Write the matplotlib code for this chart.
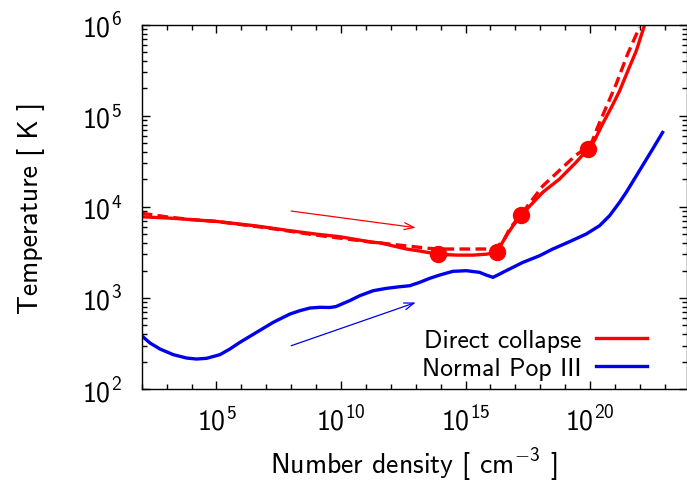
import numpy as np
import matplotlib
matplotlib.use("Agg")
import matplotlib.pyplot as plt
from matplotlib.ticker import LogLocator, NullFormatter, LogFormatterMathtext, FixedLocator

plt.rcParams['font.family'] = ['cmss10', 'DejaVu Sans']
plt.rcParams['mathtext.fontset'] = 'custom'
plt.rcParams['mathtext.rm'] = 'cmss10'
plt.rcParams['mathtext.it'] = 'cmss10'
plt.rcParams['mathtext.sf'] = 'cmss10'
plt.rcParams['axes.unicode_minus'] = False

# ---- data (log10 values) ----
red_solid_logn = [2.0, 3.27, 5.0, 6.61, 7.95, 9.02, 9.95, 11.29, 11.56, 12.63, 13.16, 13.88,
                  14.63, 15.3, 15.83, 16.25, 16.63, 16.9, 17.24, 18.1, 18.77, 19.44, 19.93,
                  20.18, 20.5, 20.85, 21.18, 21.51, 21.85, 22.18]
red_solid_logT = [3.891, 3.874, 3.84, 3.79, 3.738, 3.70, 3.672, 3.61, 3.605, 3.537, 3.515, 3.48,
                  3.47, 3.47, 3.48, 3.50, 3.68, 3.79, 3.91, 4.16, 4.305, 4.49, 4.64,
                  4.73, 4.91, 5.09, 5.27, 5.49, 5.71, 5.99]

red_dash_logn = [2.0, 3.0, 4.0, 5.0, 7.0, 9.0, 11.0, 12.5, 13.5, 14.0, 15.0, 16.0, 16.3,
                 16.57, 16.77, 17.24, 18.1, 18.77, 19.44, 19.93, 20.1, 20.31, 20.64, 21.05,
                 21.51, 21.98]
red_dash_logT = [3.93, 3.89, 3.86, 3.84, 3.77, 3.69, 3.62, 3.575, 3.545, 3.537, 3.537, 3.537, 3.57,
                 3.65, 3.76, 3.92, 4.23, 4.40, 4.57, 4.66, 4.73, 4.88, 5.09, 5.35,
                 5.68, 5.97]

marker_logn = [13.88, 16.25, 17.24, 19.93]
marker_logT = [3.48, 3.50, 3.91, 4.64]

blue_logn = [2.0, 2.333, 2.734, 3.268, 3.80, 4.205, 4.606, 5.14, 5.54, 5.94, 6.61, 7.28, 7.95,
             8.35, 8.75, 9.15, 9.55, 9.8, 10.05, 10.35, 10.75, 11.29, 11.82, 12.36, 12.76,
             13.16, 13.56, 13.96, 14.49, 15.03, 15.56, 15.83, 16.10, 16.37, 16.63, 17.30,
             17.97, 18.5, 19.17, 19.84, 20.38, 20.78, 21.18, 21.45, 21.98, 22.51, 22.91]
blue_logT = [2.585, 2.505, 2.439, 2.377, 2.340, 2.329, 2.337, 2.377, 2.439, 2.512, 2.622, 2.732,
             2.823, 2.86, 2.889, 2.897, 2.895, 2.905, 2.935, 2.97, 3.024, 3.079, 3.105, 3.123,
             3.134, 3.171, 3.215, 3.251, 3.292, 3.299, 3.281, 3.251, 3.226, 3.262, 3.299,
             3.39, 3.463, 3.537, 3.617, 3.701, 3.793, 3.902, 4.049, 4.159, 4.396, 4.634, 4.817]

red_arrow = [(8.0, 3.954), (13.0, 3.771)]
blue_arrow = [(8.0, 2.475), (13.0, 2.95)]

labels = ["Direct collapse", "Normal Pop III"]

W, H = 687, 489
fig = plt.figure(figsize=(W / 100, H / 100), dpi=100)
x0, x1 = 141.7, 686.5
y0, y1 = 25.7, 390.0
ax = fig.add_axes([x0 / W, 1 - y1 / H, (x1 - x0) / W, (y1 - y0) / H])

p = lambda a: 10 ** np.asarray(a)

ax.plot(p(red_dash_logn), p(red_dash_logT), color='#ff0000', lw=2.4, ls=(0, (3.2, 1.6)),
        solid_joinstyle='round')
l1, = ax.plot(p(red_solid_logn), p(red_solid_logT), color='#ff0000', lw=2.4, label=labels[0],
              solid_joinstyle='round')
ax.plot(p(marker_logn), p(marker_logT), 'o', color='#ff0000', ms=11.5, ls='none')
l2, = ax.plot(p(blue_logn), p(blue_logT), color='#0000ee', lw=2.4, label=labels[1],
              solid_joinstyle='round')

for arr, col in ((red_arrow, '#ff0000'), (blue_arrow, '#0000ee')):
    (xa, ya), (xb, yb) = arr
    ax.annotate('', xy=(10 ** xb, 10 ** yb), xytext=(10 ** xa, 10 ** ya),
                arrowprops=dict(arrowstyle='->,head_length=0.7,head_width=0.25', color=col, lw=0.9,
                                shrinkA=0, shrinkB=0))

ax.set_xscale('log')
ax.set_yscale('log')
ax.set_xlim(1e2, 10 ** 23.87)
ax.set_ylim(1e2, 1e6)

ax.xaxis.set_major_locator(FixedLocator([1e5, 1e10, 1e15, 1e20]))
ax.xaxis.set_minor_locator(FixedLocator([10.0 ** k for k in range(2, 25)]))
ax.xaxis.set_minor_formatter(NullFormatter())
ax.xaxis.set_major_formatter(LogFormatterMathtext())
ax.yaxis.set_major_locator(LogLocator(base=10.0, subs=(1.0,), numticks=100))
ax.yaxis.set_minor_locator(LogLocator(base=10.0, subs=np.arange(2, 10), numticks=100))
ax.yaxis.set_minor_formatter(NullFormatter())

ax.tick_params(which='both', direction='in', top=True, right=True, width=1.0)
ax.tick_params(which='major', length=6, labelsize=20)
ax.tick_params(which='minor', length=3.5)
ax.tick_params(axis='y', which='major', pad=14)
ax.tick_params(axis='x', which='major', pad=12)
for s in ax.spines.values():
    s.set_linewidth(1.0)

ax.set_xlabel('Number density [ cm$^{-3}$ ]', fontsize=20, labelpad=8)
ax.set_ylabel('Temperature [ K ]', fontsize=20, labelpad=27)

ax.legend(handles=[l1, l2], loc='lower right', bbox_to_anchor=(0.970, -0.038), frameon=False,
          markerfirst=False, fontsize=18.5, handlelength=2.0, handletextpad=0.55,
          labelspacing=0.17)

fig.savefig('out.png', dpi=100)
